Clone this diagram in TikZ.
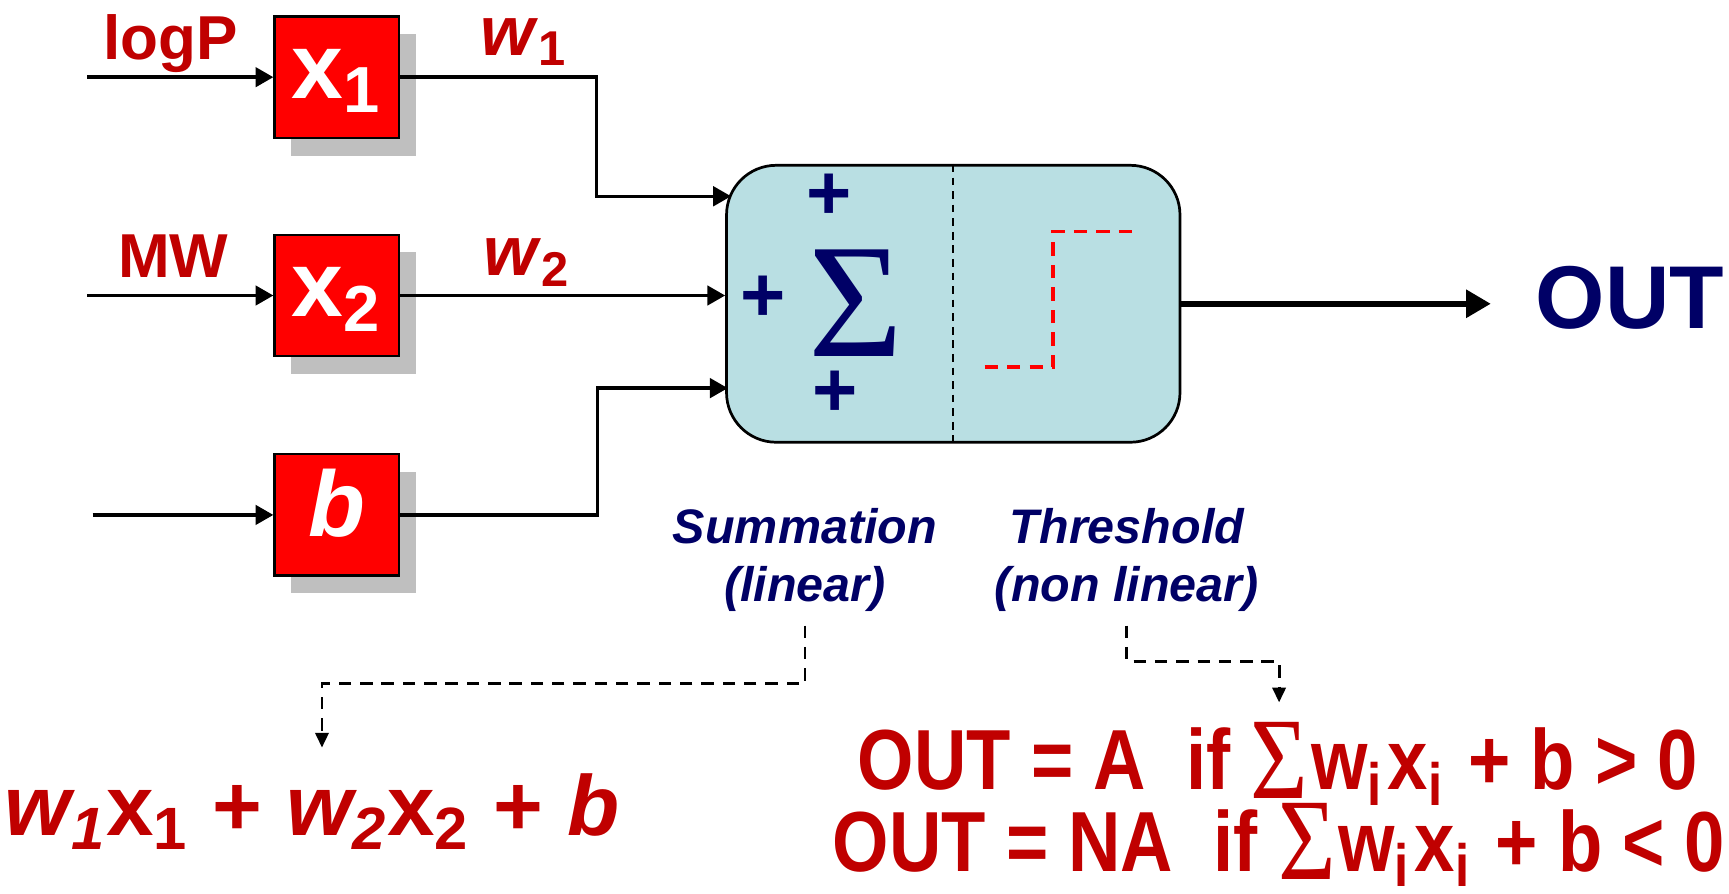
\documentclass[tikz,border=0pt]{standalone}
\usepackage{fontspec}
\usepackage{graphicx}
\setmainfont{Liberation Sans}
\newfontfamily\sigfont{Liberation Serif}
\usetikzlibrary{arrows.meta,shadows}
\definecolor{boxred}{HTML}{FF0000}
\definecolor{txtred}{HTML}{C00000}
\definecolor{navy}{HTML}{000066}
\definecolor{sumblue}{HTML}{B9DFE3}
\definecolor{shade}{HTML}{BFBFBF}
\newcommand\bigsig{\raisebox{-0.1em}{\sigfont\mdseries\fontsize{30}{30}\selectfont Σ}\kern0.04em}
\newcommand\isub{\textsubscript{i}\kern0.06em}
\tikzset{
  inbox/.style={draw,line width=0.6pt,fill=boxred,text=white,minimum width=1.13cm,minimum height=1.1cm,
    text height=14pt,text depth=3pt,
    drop shadow={shadow xshift=0.15cm,shadow yshift=-0.16cm,fill=shade,opacity=1},
    font=\fontsize{24}{26}\selectfont\bfseries},
  wire/.style={line width=0.9pt,-{Triangle[length=4.6pt,width=5pt]}},
  dashwire/.style={line width=0.75pt,dash pattern=on 3.2pt off 2.3pt,-{Triangle[length=3.8pt,width=3.4pt]}},
  redlbl/.style={text=txtred,font=\fontsize{16}{18}\selectfont\bfseries,anchor=base},
  wlbl/.style={text=txtred,font=\fontsize{18}{20}\selectfont\bfseries,anchor=base},
  pluslbl/.style={text=navy,font=\fontsize{20}{22}\selectfont\bfseries,inner sep=0pt},
  partlbl/.style={text=navy,font=\fontsize{12.5}{15}\selectfont\bfseries\itshape,align=center},
  eqlbl/.style={text=txtred,font=\fontsize{22}{24}\selectfont\bfseries,anchor=base,inner sep=0pt}
}
\begin{document}
\begin{tikzpicture}[x=0.01cm,y=-0.01cm]
\useasboundingbox (0,0) rectangle (1568,810);
\foreach \nm/\yy/\txt in {bx1/70/x\textsubscript{1},bx2/268/x\textsubscript{2},bxb/467/\textit{b}}
  \node[inbox] (\nm) at (305.5,\yy) {\txt};
\foreach \nm/\dx in {bx1/169,bx2/169,bxb/164} {
  \path (\nm.west) ++(-\dx,0) coordinate (src\nm);
  \draw[wire] (src\nm) -- (\nm.west);
}
\node[redlbl] (logp) at (155,54) {logP};
\node[redlbl] (mw) at (157,252) {MW};

\node[draw,line width=0.7pt,fill=sumblue,rounded corners=0.45cm,minimum width=4.11cm,minimum height=2.51cm] (sum) at (864.5,275.5) {};
\draw[line width=0.5pt,dash pattern=on 2pt off 1.5pt] (sum.north) -- (sum.south);
\node[text=navy,font=\sigfont\fontsize{42}{44}\selectfont] (sigma) at (776,275) {Σ};
\foreach \nm/\xx/\yy in {pa/752/178,pb/692/271,pc/757/357}
  \node[pluslbl] (\nm) at (\xx,\yy) {+};
\draw[red,line width=0.95pt,dash pattern=on 3.4pt off 2.4pt] (893,333) -- (955,333) -- (955,210) -- (1028,210);

\coordinate (in1) at (663,178);
\coordinate (in3) at (660,352);
\draw[wire] (bx1.east) -- ++(178,0) |- (in1);
\draw[wire] (bx2.east) -- (sum.west |- bx2.east);
\draw[wire] (bxb.east) -- ++(179,0) |- (in3);
\node[wlbl] (w1) at (475,50) {\textit{w}\textsubscript{1}};
\node[wlbl] (w2) at (478,250) {\textit{w}\textsubscript{2}};

\node[text=navy,font=\fontsize{23}{25}\selectfont\bfseries,anchor=base] (out) at (1478,298) {OUT};
\coordinate (outtip) at (1352,275.5);
\draw[line width=1.5pt,-{Triangle[length=6.4pt,width=7pt]}] (sum.east) -- (outtip);

\node[partlbl] (sumlbl) at (730,508) {Summation\\(linear)};
\node[partlbl] (thrlbl) at (1022,508) {Threshold\\(non linear)};

\node[eqlbl] (lin) at (283,758)
  {\textit{w\textsubscript{1}}x\textsubscript{1} + \textit{w\textsubscript{2}}x\textsubscript{2} + \textit{b}};
\node[eqlbl] (eqA) at (1159,716) {\scalebox{0.85}[1]{OUT = A\ \ if \bigsig w\isub{}x\isub{} + b > 0}};
\node[eqlbl] (eqNA) at (1160,790) {\scalebox{0.85}[1]{OUT = NA\ \ if \bigsig w\isub{}x\isub{} + b < 0}};

\coordinate (bendS) at (292,620);
\coordinate (tipS) at (292,678);
\draw[dashwire] (sumlbl.south) |- (bendS) -- (tipS);
\coordinate (bendT) at (1160,600);
\coordinate (tipT) at (1160,637);
\draw[dashwire] (thrlbl.south) |- (bendT) -- (tipT);
\end{tikzpicture}
\end{document}
